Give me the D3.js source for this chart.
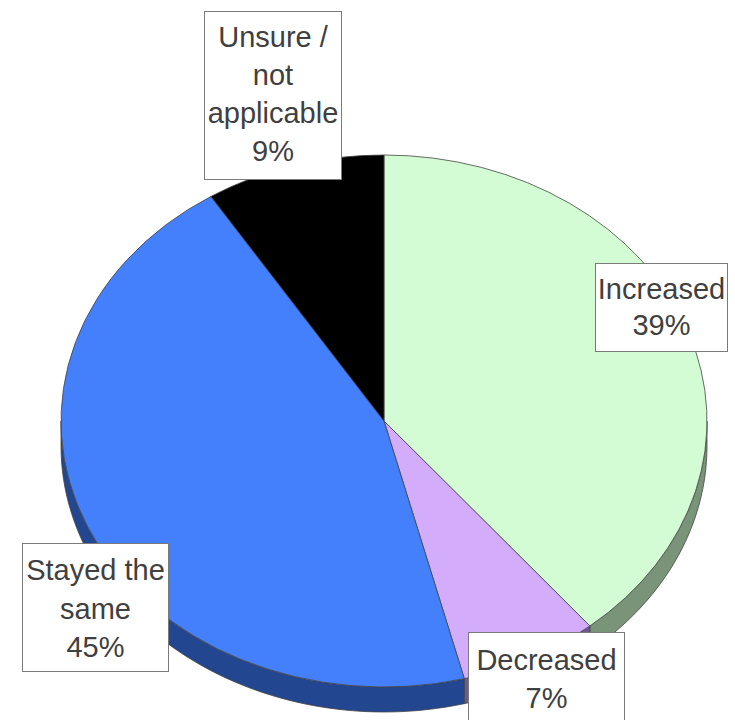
<!DOCTYPE html>
<html>
<head>
<meta charset="utf-8">
<script src="https://cdn.jsdelivr.net/npm/d3@7/dist/d3.min.js"></script>
<style>
  html, body { margin: 0; padding: 0; background: #fff; }
  svg { display: block; }
  text { font-family: "Liberation Sans", Arial, sans-serif; }
</style>
</head>
<body>
<script>
// Survey answers, in drawing order (clockwise from 12 o'clock)
const categories = ["Increased", "Decreased", "Stayed the same", "Unsure / not applicable"];
const values = [39, 7, 45, 9];
const topColors = ["#d4fcd4", "#d4acfc", "#4480fc", "#000000"];
const sideColors = ["#7a9479", "#6e5a8c", "#22468f", "#000000"];
// Label lines shown in each callout box
const labelLines = [
  ["Increased", "39%"],
  ["Decreased", "7%"],
  ["Stayed the", "same", "45%"],
  ["Unsure /", "not", "applicable", "9%"]
];

const W = 735, H = 720;
const cx = 384, cy = 421, rx = 323, ry = 266, depth = 25;

const svg = d3.select("body").append("svg").attr("width", W).attr("height", H);

const pie = d3.pie().sort(null).value(d => d)
  .startAngle(0).endAngle(2 * Math.PI);
const arcs = pie(values);

// point on the top or bottom rim of the tilted disc
const rim = (a, dy) => [cx + rx * Math.sin(a), cy - ry * Math.cos(a) + dy];

// Side walls: only the front half (angles between PI/2 and 3PI/2) is visible
const sideG = svg.append("g");
arcs.forEach((d, i) => {
  const a0 = Math.max(d.startAngle, Math.PI / 2);
  const a1 = Math.min(d.endAngle, 3 * Math.PI / 2);
  if (a1 <= a0) return;
  const n = 60;
  const angs = d3.range(n + 1).map(k => a0 + (a1 - a0) * k / n);
  const pts = angs.map(a => rim(a, 0)).concat(angs.slice().reverse().map(a => rim(a, depth)));
  sideG.append("path")
    .attr("d", d3.line()(pts) + "Z")
    .attr("fill", sideColors[i])
    .attr("stroke", "#444")
    .attr("stroke-width", 0.8)
    .attr("stroke-linejoin", "round");
});

// Top face: circular arcs squashed vertically into an ellipse
const arcGen = d3.arc().innerRadius(0).outerRadius(rx);
svg.append("g")
  .attr("transform", `translate(${cx},${cy}) scale(1,${ry / rx})`)
  .selectAll("path")
  .data(arcs)
  .join("path")
  .attr("d", arcGen)
  .attr("fill", (d, i) => topColors[i])
  .attr("stroke", "#444")
  .attr("stroke-width", 0.8)
  .attr("vector-effect", "non-scaling-stroke");

// Callout boxes: [left, top, width, height] and first baseline
const boxes = [
  { x: 595, y: 263, w: 132, h: 88, base: 299, step: 36 },
  { x: 468, y: 632, w: 156, h: 100, base: 670, step: 38 },
  { x: 22, y: 543, w: 146, h: 128, base: 580, step: 38.5 },
  { x: 204, y: 11, w: 137, h: 168, base: 47, step: 38 }
];
const labG = svg.append("g");
boxes.forEach((b, i) => {
  labG.append("rect")
    .attr("x", b.x + 0.5).attr("y", b.y + 0.5)
    .attr("width", b.w).attr("height", b.h)
    .attr("fill", "#fff").attr("stroke", "#7a7a7a").attr("stroke-width", 1);
  labelLines[i].forEach((t, j) => {
    labG.append("text")
      .attr("x", b.x + b.w / 2 + 0.5)
      .attr("y", b.base + j * b.step)
      .attr("text-anchor", "middle")
      .attr("font-size", 29)
      .attr("fill", "#404040")
      .text(t);
  });
});
</script>
</body>
</html>
